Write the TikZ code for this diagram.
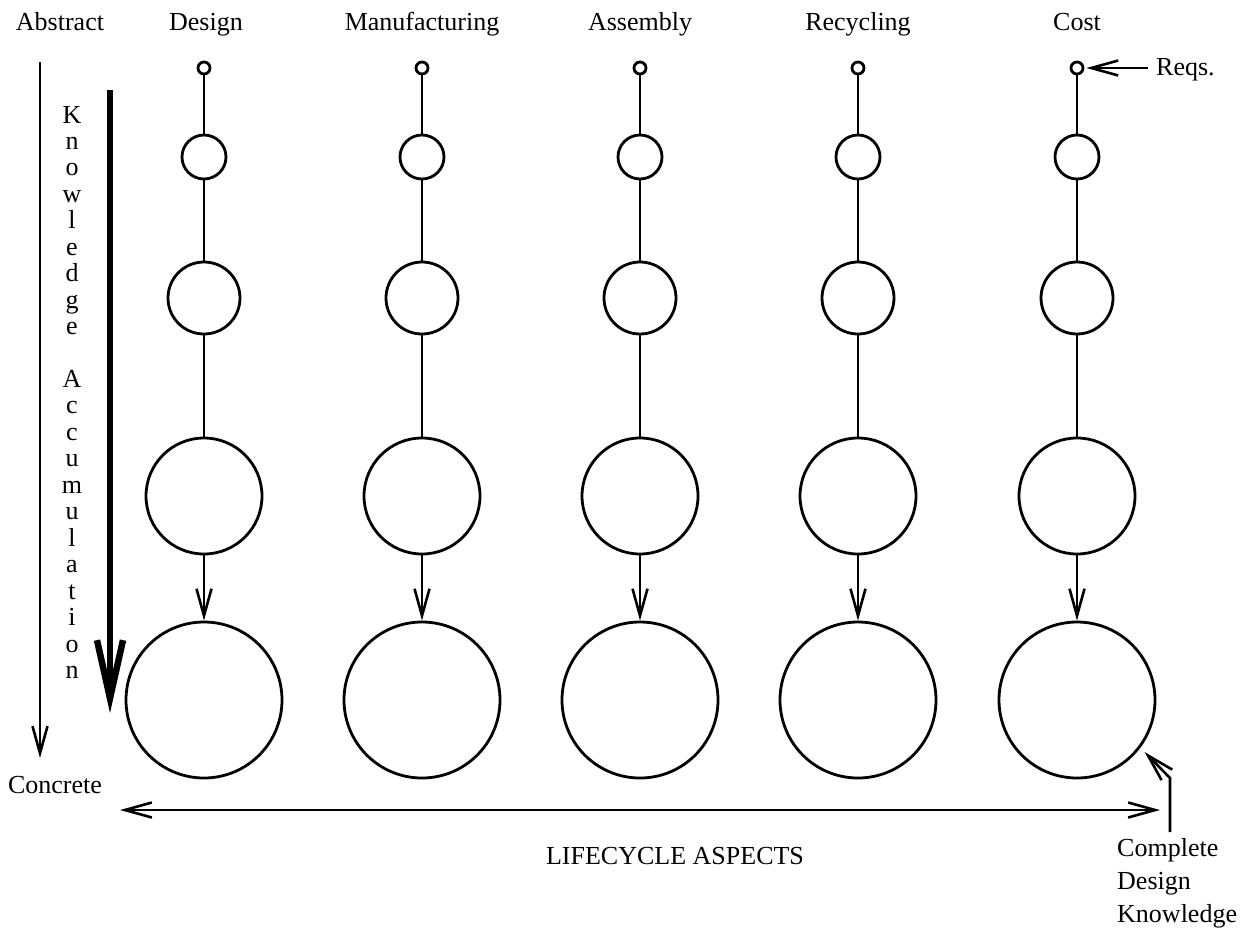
\documentclass[tikz,border=0pt]{standalone}
\usepackage{fontspec}
\setmainfont{Liberation Serif}
\usetikzlibrary{arrows.meta}
\begin{document}
\begin{tikzpicture}[x=1pt,y=-1pt,
  lbl/.style={font=\fontsize{26}{30}\selectfont, inner sep=0pt, anchor=base},
  ring/.style={circle, draw, line width=2.8pt, inner sep=0pt, minimum size=#1},
  link/.style={line width=2.6pt},
  vbarb/.tip={Straight Barb[length=27pt,width=15pt]},
  openarrow/.style={line width=2.6pt, -vbarb},
  bigarrow/.style={line width=6.5pt, -{Straight Barb[length=58pt,width=26pt]}}]
\useasboundingbox (0,0) rectangle (1255,935);

% axis labels
\node[lbl] (abstract) at (60,30) {Abstract};
\node[lbl] (concrete) at (55,793) {Concrete};

% abstract-to-concrete axis
\coordinate (axtop) at (40,62);
\coordinate (axbot) at (40,758);
\draw[openarrow] (axtop) -- (axbot);

% knowledge accumulation arrow and its vertical caption
\coordinate (katop) at (110,90);
\coordinate (kabot) at (110,713);
\draw[bigarrow] (katop) -- (kabot);
\foreach \ch [count=\i from 0] in {K,n,o,w,l,e,d,g,e}
  \node[lbl] (kw\i) at (72,123+26.45*\i) {\ch};
\foreach \ch [count=\i from 10] in {A,c,c,u,m,u,l,a,t,i,o,n}
  \node[lbl] (ka\i) at (72,123+26.45*\i) {\ch};

% one column per lifecycle aspect
\foreach \name/\x [count=\k] in {Design/206,Manufacturing/422,Assembly/640,Recycling/858,Cost/1077} {
  \node[lbl] (head\k) at (\x,30) {\name};
}
\foreach \x [count=\k] in {204,422,640,858,1077} {
  \node[ring=12pt]  (a\k) at (\x,68)  {};
  \node[ring=44pt]  (b\k) at (\x,157) {};
  \node[ring=72pt]  (c\k) at (\x,298) {};
  \node[ring=116pt] (d\k) at (\x,496) {};
  \node[ring=156pt] (e\k) at (\x,700) {};
  \draw[link] (a\k) -- (b\k);
  \draw[link] (b\k) -- (c\k);
  \draw[link] (c\k) -- (d\k);
  \draw[openarrow] (d\k) -- (e\k);
}

% requirements input
\node[lbl, anchor=base west] (reqs) at (1156,75) {Reqs.};
\coordinate (reqstail) at (1148,68);
\draw[openarrow, shorten >=2pt] (reqstail) -- (a5);

% lifecycle aspects axis
\coordinate (lcl) at (120,810);
\coordinate (lcr) at (1160,810);
\draw[line width=2.6pt, vbarb-vbarb] (lcl) -- (lcr);
\node[lbl] (lifecycle) at (675,864) {LIFECYCLE ASPECTS};

% complete design knowledge
\node[lbl, anchor=base west] (cdk1) at (1117,856) {Complete};
\node[lbl, anchor=base west] (cdk2) at (1117,889) {Design};
\node[lbl, anchor=base west] (cdk3) at (1117,922) {Knowledge};
\coordinate (cdkfoot) at (1170,832);
\coordinate (cdkbend) at (1170,778);
\draw[openarrow, shorten >=6pt] (cdkfoot) -- (cdkbend) -- (e5.-37);
\end{tikzpicture}
\end{document}
